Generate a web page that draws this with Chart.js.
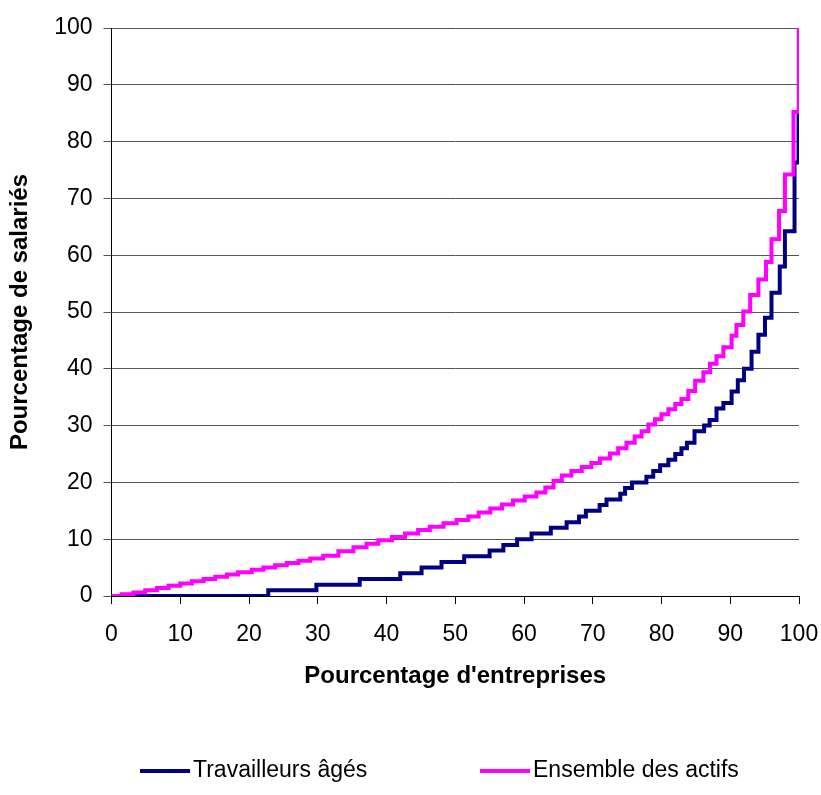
<!DOCTYPE html>
<html>
<head>
<meta charset="utf-8">
<script src="https://cdn.jsdelivr.net/npm/chart.js@4.4.0/dist/chart.umd.min.js"></script>
<style>
html,body{margin:0;padding:0;background:#fff;}
#wrap{width:821px;height:795px;position:relative;}
</style>
</head>
<body>
<div id="wrap"><canvas id="c" width="821" height="795"></canvas></div>
<script>
// Series labels
const seriesNames = ["Travailleurs âgés", "Ensemble des actifs"];
// Axis ticks
const xTicks = [0,10,20,30,40,50,60,70,80,90,100];
const yTicks = [0,10,20,30,40,50,60,70,80,90,100];
// Travailleurs âgés: step start (x) and level (y)
const agesX = [0, 22.8, 29.8, 36.1, 42.0, 45.1, 48.0, 51.3, 55.0, 57.0, 59.0, 61.1, 63.9, 66.2, 68.0, 69.0, 71.0, 72.0, 74.0, 74.7, 75.7, 77.8, 78.8, 79.8, 81.0, 82.0, 82.9, 83.7, 84.8, 86.2, 87.0, 88.0, 89.0, 90.2, 91.1, 92.0, 93.1, 94.1, 95.05, 96.0, 97.2, 97.95, 99.35, 99.93, 100];
const agesY = [0, 1, 2, 3, 4, 5, 6, 7, 8, 9, 10, 11, 12, 13, 14, 15, 16, 17, 18, 19, 20, 21, 22, 23, 24, 25, 26, 27, 29, 30, 31, 33, 34, 36, 38, 40, 43, 46, 49, 53.4, 58, 64.2, 76.3, 84.8, 100];
// Ensemble des actifs: step start (x) and level (y)
const actifsX = [0, 1.5, 3.2, 4.9, 6.6, 8.3, 10.0, 11.7, 13.4, 15.1, 16.8, 18.4, 20.4, 22.1, 23.8, 25.5, 27.2, 28.9, 30.8, 33.0, 35.2, 37.1, 38.8, 40.8, 42.7, 44.6, 46.3, 48.3, 50.2, 51.9, 53.4, 55.1, 56.8, 58.4, 60.1, 61.8, 63.1, 64.3, 65.5, 66.9, 68.4, 69.8, 71.05, 72.5, 73.7, 74.9, 76.1, 77.1, 78.1, 79.05, 80.0, 81.0, 82.0, 82.9, 83.9, 84.9, 86.1, 87.05, 88.0, 89.0, 90.2, 90.9, 91.9, 92.9, 94.1, 95.2, 96.0, 97.1, 97.95, 99.2, 99.97];
const actifsY = [0, 0.3, 0.6, 1.0, 1.4, 1.8, 2.2, 2.6, 3.0, 3.4, 3.8, 4.2, 4.6, 5.0, 5.4, 5.8, 6.2, 6.6, 7.1, 7.9, 8.6, 9.2, 9.8, 10.4, 11.0, 11.6, 12.2, 12.8, 13.4, 14.0, 14.7, 15.4, 16.1, 16.8, 17.5, 18.2, 19.1, 20.3, 21.2, 22.0, 22.7, 23.4, 24.2, 25.1, 26.0, 27.0, 28.1, 29.0, 30.2, 31.1, 32.0, 32.9, 33.8, 34.7, 36.1, 37.9, 39.4, 40.9, 42.2, 43.8, 45.8, 47.7, 50.1, 53.0, 55.7, 58.8, 62.8, 67.8, 74.2, 85.2, 100];

const colors = ["#000080", "#FF00FF"];
const FONT = "'Liberation Sans', Arial, Helvetica, sans-serif";

function pts(xs, ys){ return xs.map((x,i)=>({x:x, y:ys[i]})); }

const legendPlugin = {
  id: 'customLegend',
  afterDraw(chart){
    const ctx = chart.ctx;
    const items = [
      {sx:140, tx:193},
      {sx:480, tx:533}
    ];
    const y = 771;
    ctx.save();
    chart.data.datasets.forEach((ds, i) => {
      const it = items[i];
      ctx.strokeStyle = ds.borderColor;
      ctx.lineWidth = 4;
      ctx.beginPath();
      ctx.moveTo(it.sx, y);
      ctx.lineTo(it.sx + 50, y);
      ctx.stroke();
      ctx.fillStyle = '#000';
      ctx.font = "23px " + FONT;
      ctx.textBaseline = 'middle';
      ctx.textAlign = 'left';
      ctx.fillText(ds.label, it.tx, y);
    });
    ctx.restore();
  }
};

new Chart(document.getElementById('c'), {
  type: 'line',
  data: {
    datasets: [
      { label: seriesNames[0], data: pts(agesX, agesY), borderColor: colors[0], backgroundColor: colors[0], borderWidth: 4, pointRadius: 0, stepped: 'before', fill: false, order: 2 },
      { label: seriesNames[1], data: pts(actifsX, actifsY), borderColor: colors[1], backgroundColor: colors[1], borderWidth: 4, pointRadius: 0, stepped: 'before', fill: false, order: 1 }
    ]
  },
  options: {
    responsive: false,
    animation: false,
    devicePixelRatio: 1,
    layout: { padding: { top: 28, right: 22, left: 0, bottom: 100 } },
    plugins: { legend: { display: false }, tooltip: { enabled: false }, title: { display: false } },
    scales: {
      x: {
        type: 'linear', min: 0, max: 100,
        afterBuildTicks: (s) => { s.ticks = xTicks.map(v => ({value: v})); },
        afterFit: (s) => { s.height = 99; s.paddingLeft = 0; s.paddingRight = 0; },
        ticks: { color: '#000', font: { family: FONT, size: 23 }, padding: 17, maxRotation: 0, autoSkip: false },
        grid: { drawOnChartArea: false, color: '#000', tickLength: 8, lineWidth: 1 },
        border: { color: '#000', width: 1 },
        title: { display: true, text: "Pourcentage d'entreprises", color: '#000', font: { family: FONT, size: 24, weight: 'bold' }, padding: { top: 4, bottom: 4 } }
      },
      y: {
        type: 'linear', min: 0, max: 100,
        afterBuildTicks: (s) => { s.ticks = yTicks.map(v => ({value: v})); },
        afterFit: (s) => { s.width = 111.5; s.paddingTop = 0; s.paddingBottom = 0; },
        ticks: { color: '#000', font: { family: FONT, size: 23 }, padding: 11, autoSkip: false },
        grid: { color: '#555', tickLength: 8, lineWidth: 1 },
        border: { color: '#000', width: 1 },
        title: { display: true, text: "Pourcentage de salariés", color: '#000', font: { family: FONT, size: 24, weight: 'bold' }, padding: { top: 6, bottom: 4 } }
      }
    }
  },
  plugins: [legendPlugin]
});
</script>
</body>
</html>
